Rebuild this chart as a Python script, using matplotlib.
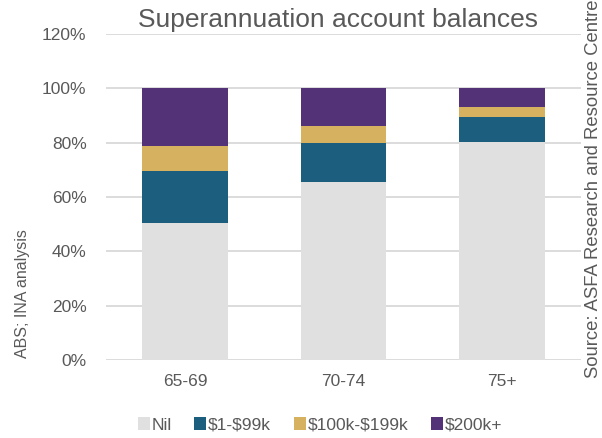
import numpy as np
import matplotlib
matplotlib.use("Agg")
import matplotlib.pyplot as plt

plt.rcParams['font.family'] = ['Liberation Sans', 'DejaVu Sans']

# data (percent of age group)
groups = ["65-69", "70-74", "75+"]
series = ["Nil", r"\$1-\$99k", r"\$100k-\$199k", r"\$200k+"]
nil = [50.3, 65.6, 80.2]
low = [19.2, 14.2, 9.4]
mid = [9.4, 6.5, 3.6]
high = [21.1, 13.7, 6.8]
colours = ["#e0e0e0", "#1b5e7e", "#d6b160", "#533278"]
grey = "#595959"

fig = plt.figure(figsize=(6.02, 4.38), dpi=100)
ax = fig.add_axes([106/602, 1-360/438, 475/602, 326/438])

x = np.arange(len(groups))
bottom = np.zeros(len(groups))
for vals, name, c in zip([nil, low, mid, high], series, colours):
    ax.bar(x, vals, width=0.54, bottom=bottom, color=c, label=name, zorder=3)
    bottom += np.array(vals)

ax.set_xlim(-0.5, 2.5)
ax.set_ylim(0, 120)
ax.set_yticks(np.arange(0, 121, 20))
ax.set_yticklabels([f"{v}%" for v in range(0, 121, 20)])
ax.set_xticks(x)
ax.set_xticklabels(groups)
ax.tick_params(length=0, labelsize=12.5, colors=grey, pad=14)
ax.tick_params(axis='x', pad=10)
ax.grid(axis='y', color="#d9d9d9", linewidth=1.3, zorder=0)
for s in ax.spines.values():
    s.set_visible(False)

fig.text(338/602, 1-20/438, "Superannuation account balances", ha='center', va='center',
         fontsize=19, color=grey)
fig.text(22/602, 1-294/438, "ABS; INA analysis", rotation=90, ha='center', va='center',
         fontsize=11.5, color=grey)
fig.text(593/602, 1-378/438, "Source: ASFA Research and Resource Centre", rotation=90,
         ha='center', va='bottom', fontsize=13.3, color=grey)

ax.legend(loc='center', bbox_to_anchor=(320/602, 1-425/438), bbox_transform=fig.transFigure,
          ncol=4, frameon=False,
          fontsize=12.5, labelcolor=grey, handlelength=0.7, handleheight=0.7,
          handletextpad=0.1, columnspacing=1.3)

fig.savefig("out.png", dpi=100)
